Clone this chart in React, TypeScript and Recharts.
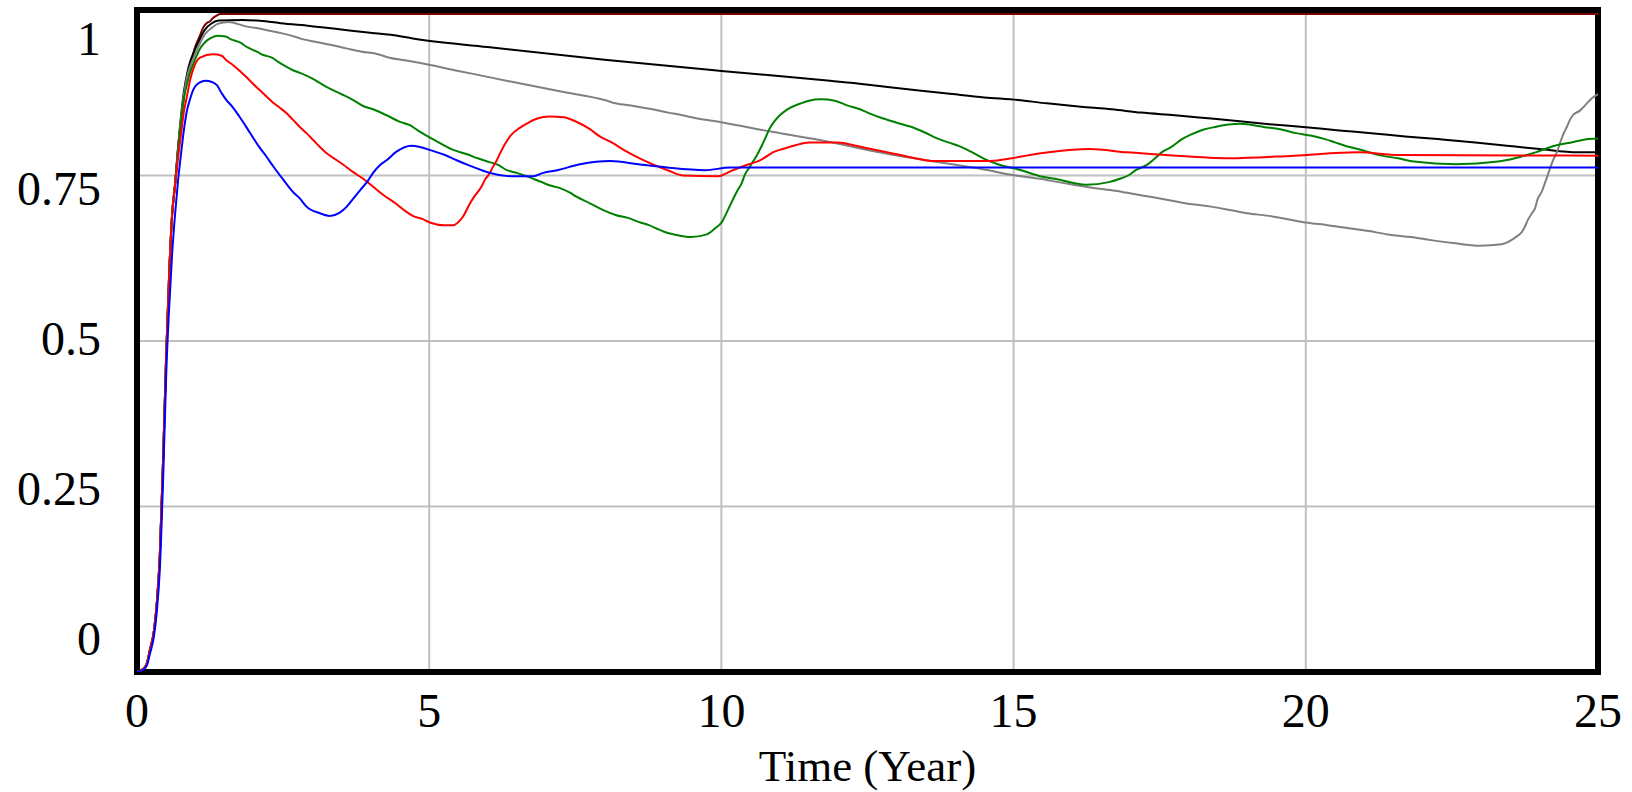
import React from 'react';
import { CartesianGrid, Line, LineChart, ReferenceArea, XAxis, YAxis } from 'recharts';

const FONT = '"Liberation Serif", "Times New Roman", serif';

const timeTicks = [0, 5, 10, 15, 20, 25];
const valueTicks = [0, 0.25, 0.5, 0.75, 1];

// early rise shared by every run except blue
const rise: [number, number][] = [
  [0, 0], [0.1, 0.004], [0.17, 0.013], [0.22, 0.033], [0.29, 0.062], [0.34, 0.105],
  [0.39, 0.175], [0.45, 0.33], [0.5, 0.48], [0.55, 0.6], [0.6, 0.69], [0.65, 0.735],
];

const maroonRun: [number, number][] = [
  ...rise,
  [0.7, 0.789], [0.76, 0.837], [0.82, 0.879], [0.88, 0.906], [0.94, 0.924], [0.98, 0.94],
  [1.03, 0.952], [1.08, 0.962], [1.13, 0.973], [1.19, 0.98], [1.25, 0.983], [1.3, 0.988],
  [1.37, 0.992], [1.42, 0.994], [25, 0.994],
];

const blackRun: [number, number][] = [
  ...rise,
  [0.7, 0.789], [0.75, 0.837], [0.8, 0.875], [0.86, 0.905], [0.91, 0.922], [0.98, 0.938],
  [1.08, 0.957], [1.16, 0.97], [1.28, 0.98], [1.4, 0.984], [1.8, 0.985], [2.2, 0.983],
  [2.46, 0.98], [2.96, 0.976], [3.46, 0.971], [3.95, 0.966], [4.4, 0.962], [4.72, 0.957],
  [6.0, 0.944], [8.0, 0.925], [10.0, 0.908], [11.86, 0.893], [12.44, 0.888], [12.92, 0.883],
  [13.42, 0.878], [13.95, 0.873], [14.5, 0.868], [15.07, 0.864], [15.57, 0.859], [16.15, 0.854],
  [16.68, 0.85], [17.18, 0.845], [17.76, 0.841], [18.38, 0.836], [18.87, 0.832], [19.44, 0.827],
  [20.0, 0.823], [20.57, 0.818], [21.12, 0.814], [21.7, 0.809], [22.26, 0.805], [22.9, 0.8],
  [23.44, 0.795], [24.0, 0.79], [24.66, 0.785], [25, 0.785],
];

const greyRun: [number, number][] = [
  ...rise,
  [0.7, 0.787], [0.75, 0.834], [0.8, 0.87], [0.86, 0.9], [0.91, 0.915], [0.98, 0.93],
  [1.08, 0.95], [1.16, 0.963], [1.28, 0.973], [1.38, 0.979], [1.57, 0.982], [1.83, 0.976],
  [2.15, 0.971], [2.42, 0.966], [2.61, 0.962], [2.83, 0.956], [3.05, 0.952], [3.33, 0.947],
  [3.58, 0.942], [3.85, 0.937], [4.09, 0.934], [4.32, 0.928], [4.58, 0.924], [4.78, 0.921],
  [5.5, 0.908], [6.5, 0.89], [7.3, 0.876], [8.0, 0.864], [8.19, 0.859], [8.5, 0.855],
  [8.82, 0.85], [9.09, 0.845], [9.33, 0.841], [9.59, 0.836], [9.9, 0.832], [10.2, 0.827],
  [10.45, 0.823], [10.67, 0.819], [11.0, 0.814], [11.33, 0.809], [11.59, 0.805], [12.16, 0.795],
  [12.42, 0.79], [12.65, 0.786], [13.3, 0.776], [13.95, 0.767], [14.57, 0.758], [14.83, 0.753],
  [15.13, 0.749], [15.45, 0.745], [15.77, 0.74], [16.37, 0.731], [16.74, 0.727], [17.06, 0.722],
  [17.39, 0.717], [17.71, 0.712], [18.02, 0.707], [18.38, 0.703], [18.7, 0.698], [19.0, 0.693],
  [19.37, 0.689], [19.69, 0.684], [20.0, 0.679], [20.37, 0.675], [20.77, 0.67], [21.08, 0.666],
  [21.4, 0.661], [21.8, 0.657], [22.17, 0.652], [22.52, 0.648], [22.98, 0.644], [23.35, 0.646],
  [23.53, 0.653], [23.61, 0.658], [23.7, 0.665], [23.75, 0.673], [23.8, 0.683], [23.87, 0.693],
  [23.92, 0.7], [23.97, 0.715], [24.04, 0.726], [24.09, 0.738], [24.13, 0.748], [24.18, 0.761],
  [24.23, 0.773], [24.3, 0.786], [24.35, 0.799], [24.4, 0.811], [24.47, 0.824], [24.52, 0.834],
  [24.57, 0.841], [24.69, 0.848], [24.81, 0.859], [24.9, 0.867], [25, 0.873],
];

const greenRun: [number, number][] = [
  ...rise,
  [0.7, 0.785], [0.75, 0.83], [0.8, 0.865], [0.86, 0.89], [0.91, 0.906], [0.98, 0.922],
  [1.08, 0.942], [1.16, 0.951], [1.25, 0.957], [1.37, 0.961], [1.52, 0.96], [1.6, 0.956],
  [1.76, 0.951], [1.9, 0.943], [2.05, 0.937], [2.16, 0.932], [2.31, 0.928], [2.41, 0.922],
  [2.56, 0.914], [2.67, 0.909], [2.79, 0.905], [3.01, 0.896], [3.18, 0.887], [3.35, 0.879],
  [3.52, 0.872], [3.7, 0.864], [3.87, 0.855], [4.04, 0.85], [4.27, 0.841], [4.5, 0.831],
  [4.67, 0.826], [4.79, 0.819], [5.1, 0.803], [5.4, 0.789], [5.65, 0.782], [5.83, 0.776],
  [6.0, 0.771], [6.18, 0.766], [6.33, 0.758], [6.5, 0.754], [6.75, 0.746], [6.9, 0.741],
  [7.03, 0.736], [7.24, 0.731], [7.41, 0.724], [7.52, 0.718], [7.75, 0.708], [7.97, 0.698],
  [8.2, 0.69], [8.4, 0.686], [8.58, 0.68], [8.76, 0.675], [8.89, 0.67], [9.02, 0.665],
  [9.19, 0.661], [9.48, 0.657], [9.75, 0.661], [9.89, 0.67], [10.01, 0.68], [10.08, 0.692],
  [10.15, 0.705], [10.22, 0.718], [10.28, 0.728], [10.35, 0.739], [10.4, 0.751], [10.47, 0.761],
  [10.54, 0.771], [10.61, 0.781], [10.68, 0.793], [10.75, 0.806], [10.82, 0.82], [10.9, 0.831],
  [11.0, 0.841], [11.13, 0.85], [11.33, 0.858], [11.5, 0.863], [11.7, 0.865], [11.94, 0.863],
  [12.15, 0.856], [12.37, 0.85], [12.5, 0.845], [12.77, 0.836], [13.03, 0.829], [13.23, 0.824],
  [13.48, 0.815], [13.69, 0.806], [13.88, 0.8], [14.08, 0.794], [14.27, 0.786], [14.48, 0.776],
  [14.73, 0.767], [15.13, 0.758], [15.45, 0.749], [15.71, 0.745], [16.24, 0.736], [16.63, 0.74],
  [16.82, 0.745], [16.96, 0.75], [17.09, 0.758], [17.28, 0.766], [17.42, 0.776], [17.55, 0.786],
  [17.68, 0.792], [17.88, 0.805], [18.04, 0.812], [18.24, 0.819], [18.43, 0.823], [18.87, 0.828],
  [19.3, 0.823], [19.56, 0.82], [19.83, 0.814], [20.1, 0.81], [20.33, 0.805], [20.5, 0.8],
  [20.67, 0.795], [20.89, 0.79], [21.3, 0.78], [21.58, 0.776], [21.85, 0.771], [22.57, 0.767],
  [23.29, 0.771], [23.58, 0.776], [23.93, 0.785], [24.26, 0.795], [24.54, 0.8], [24.84, 0.805],
  [25, 0.806],
];

const redRun: [number, number][] = [
  ...rise,
  [0.7, 0.775], [0.75, 0.81], [0.8, 0.845], [0.86, 0.872], [0.91, 0.895], [0.98, 0.915],
  [1.08, 0.928], [1.3, 0.933], [1.45, 0.931], [1.53, 0.924], [1.64, 0.917], [1.76, 0.908],
  [1.88, 0.898], [1.98, 0.889], [2.1, 0.879], [2.22, 0.869], [2.33, 0.86], [2.45, 0.852],
  [2.56, 0.844], [2.67, 0.834], [2.79, 0.823], [2.9, 0.814], [3.01, 0.804], [3.13, 0.793],
  [3.24, 0.784], [3.35, 0.777], [3.52, 0.767], [3.7, 0.755], [3.87, 0.745], [4.04, 0.733],
  [4.21, 0.721], [4.44, 0.707], [4.61, 0.695], [4.72, 0.689], [4.89, 0.684], [5.01, 0.679],
  [5.25, 0.675], [5.41, 0.675], [5.49, 0.679], [5.58, 0.688], [5.64, 0.698], [5.7, 0.708],
  [5.77, 0.718], [5.84, 0.726], [5.9, 0.734], [5.95, 0.743], [6.04, 0.754], [6.09, 0.763],
  [6.15, 0.772], [6.21, 0.783], [6.3, 0.798], [6.4, 0.811], [6.55, 0.822], [6.7, 0.83],
  [6.85, 0.836], [7.05, 0.839], [7.3, 0.838], [7.5, 0.832], [7.75, 0.82], [7.92, 0.809],
  [8.1, 0.801], [8.38, 0.786], [8.6, 0.776], [9.08, 0.758], [9.35, 0.75], [9.95, 0.749],
  [10.1, 0.754], [10.2, 0.758], [10.47, 0.767], [10.64, 0.772], [10.74, 0.777], [10.88, 0.785],
  [11.05, 0.79], [11.24, 0.795], [11.5, 0.8], [12.0, 0.8], [12.3, 0.795], [12.56, 0.79],
  [12.83, 0.785], [13.06, 0.781], [13.31, 0.776], [13.6, 0.772], [14.6, 0.772], [14.97, 0.776],
  [15.28, 0.781], [15.6, 0.785], [16.3, 0.79], [16.94, 0.785], [17.6, 0.781], [18.7, 0.776],
  [19.8, 0.78], [20.9, 0.785], [21.6, 0.781], [25, 0.78],
];

const blueRun: [number, number][] = [
  [0, 0], [0.1, 0.003], [0.17, 0.01], [0.22, 0.027], [0.29, 0.054], [0.34, 0.092],
  [0.39, 0.154], [0.45, 0.3], [0.5, 0.45], [0.55, 0.55], [0.6, 0.63], [0.65, 0.69],
  [0.7, 0.74], [0.75, 0.78], [0.8, 0.817], [0.85, 0.846], [0.91, 0.866], [0.96, 0.879],
  [1.02, 0.887], [1.18, 0.893], [1.36, 0.887], [1.45, 0.874], [1.53, 0.864], [1.64, 0.853],
  [1.76, 0.838], [1.88, 0.822], [1.98, 0.808], [2.1, 0.792], [2.22, 0.778], [2.33, 0.764],
  [2.5, 0.744], [2.67, 0.725], [2.79, 0.715], [2.9, 0.703], [3.13, 0.693], [3.3, 0.689],
  [3.47, 0.694], [3.59, 0.703], [3.7, 0.715], [3.82, 0.728], [3.95, 0.742], [4.04, 0.754],
  [4.16, 0.766], [4.27, 0.773], [4.44, 0.786], [4.69, 0.795], [5.1, 0.786], [5.27, 0.781],
  [5.47, 0.773], [5.66, 0.766], [5.9, 0.758], [6.04, 0.754], [6.4, 0.749], [6.78, 0.749],
  [6.95, 0.754], [7.19, 0.758], [7.58, 0.767], [8.1, 0.772], [8.58, 0.767], [9.07, 0.762],
  [9.72, 0.758], [10.15, 0.762], [25, 0.762],
];

const runs = [
  { name: 'run6', color: '#800000', points: maroonRun },
  { name: 'run5', color: '#000000', points: blackRun },
  { name: 'run4', color: '#808080', points: greyRun },
  { name: 'run3', color: '#008000', points: greenRun },
  { name: 'run2', color: '#ff0000', points: redRun },
  { name: 'run1', color: '#0000ff', points: blueRun },
];

const PLOT_TOP = 10;
const PLOT_BOTTOM = 672;

function XTick(props: any) {
  const { x, y, payload } = props;
  return (
    <text x={x} y={y + 55} textAnchor="middle" fontFamily={FONT} fontSize={48} fill="#000">
      {payload.value}
    </text>
  );
}

// Vensim squeezes the value labels toward the middle of the axis
function YTick(props: any) {
  const { x, y, payload } = props;
  const mid = (PLOT_TOP + PLOT_BOTTOM) / 2;
  const ty = mid + (y - mid) * 0.906 + 14;
  return (
    <text x={x - 36} y={ty} textAnchor="end" fontFamily={FONT} fontSize={48} fill="#000">
      {payload.value}
    </text>
  );
}

export default function App() {
  return (
    <div style={{ position: 'absolute', left: 0, top: 0, width: 1632, height: 792, background: '#fff' }}>
      <LineChart width={1632} height={792} margin={{ top: PLOT_TOP, right: 34, bottom: 0, left: 0 }}>
        <CartesianGrid stroke="#c0c0c0" strokeWidth={2} />
        <XAxis
          type="number"
          dataKey="t"
          domain={[0, 25]}
          ticks={timeTicks}
          height={120}
          tickSize={0}
          tickMargin={0}
          tickLine={false}
          axisLine={false}
          tick={<XTick />}
          allowDataOverflow
          label={{ value: 'Time (Year)', position: 'insideBottom', offset: 11, fill: '#000', fontSize: 45, fontFamily: FONT }}
        />
        <YAxis
          type="number"
          domain={[0, 1]}
          ticks={valueTicks}
          width={137}
          tickSize={0}
          tickMargin={0}
          tickLine={false}
          axisLine={false}
          tick={<YTick />}
          allowDataOverflow
        />
        {runs.map((r) => (
          <Line
            key={r.name}
            name={r.name}
            data={r.points.map(([t, v]) => ({ t, v }))}
            dataKey="v"
            type="monotone"
            stroke={r.color}
            strokeWidth={2}
            dot={false}
            activeDot={false}
            isAnimationActive={false}
          />
        ))}
        <ReferenceArea x1={0} x2={25} y1={0} y2={1} fill="none" stroke="#000" strokeWidth={6} ifOverflow="visible" />
      </LineChart>
    </div>
  );
}
